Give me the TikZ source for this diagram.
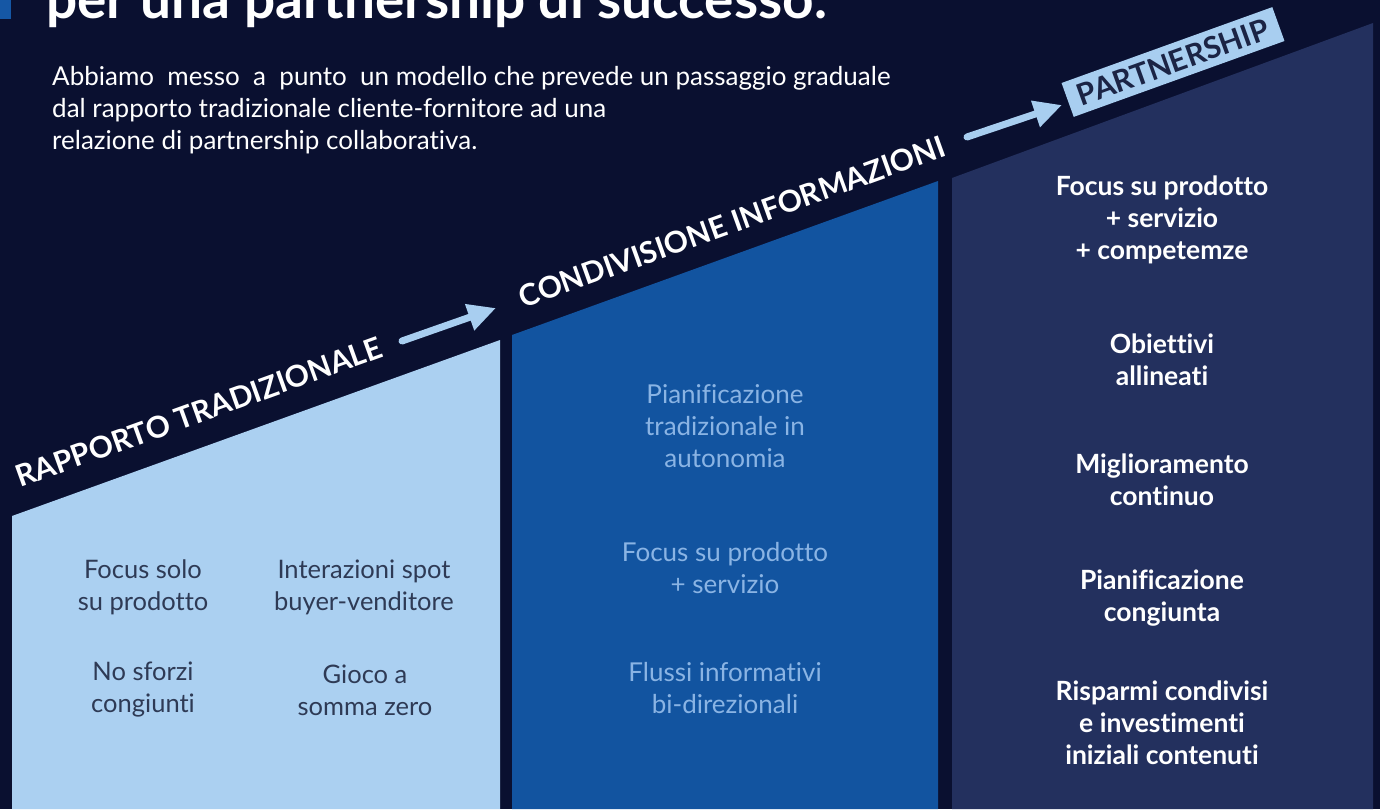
\documentclass[tikz,border=0pt]{standalone}
\usepackage{fontspec}
\setmainfont{Lato}[Ligatures=NoCommon]
\usetikzlibrary{arrows.meta}
\definecolor{bgnavy}{HTML}{0A1030}
\definecolor{paleblue}{HTML}{ABD0F1}
\definecolor{midblue}{HTML}{1254A0}
\definecolor{deepnavy}{HTML}{23305E}
\definecolor{arrowblue}{HTML}{A8CEF0}
\definecolor{lefttext}{HTML}{2E3A55}
\definecolor{midtext}{HTML}{8AB4E4}
\definecolor{barblue}{HTML}{1557A5}
\definecolor{tagtext}{HTML}{1B2445}

\begin{document}
\begin{tikzpicture}[x=1pt,y=-1pt,
    phase/.style={font=\fontsize{30}{30}\selectfont\bfseries, rotate=19.8, text=white, inner sep=0pt},
    lefttxt/.style={align=center, font=\fontsize{25.5}{32}\selectfont, text=lefttext},
    midtxt/.style={align=center, font=\fontsize{26}{32}\selectfont, text=midtext},
    righttxt/.style={align=center, font=\fontsize{26.5}{32}\selectfont\bfseries, text=white},
    stair/.style={line width=7pt, line cap=round, arrowblue, -{Triangle[length=28pt,width=26pt]}}]
    \fill[bgnavy] (0,0) rectangle (1380,809);
    \useasboundingbox (0,0) rectangle (1380,809);

    % title (cut at the top) and intro
    \fill[barblue] (0,0) rectangle (11,19);
    \node[anchor=base west, inner sep=0pt, font=\fontsize{55}{55}\selectfont\bfseries, text=white] (title) at (46,18) {per una partnership di successo.};
    \node[anchor=north west, inner sep=0pt, align=left, font=\fontsize{26}{32}\selectfont, text=white] (intro) at (52,66)
        {Abbiamo\ \ messo\ \ a\ \ punto\ \ un modello che prevede un passaggio graduale\\dal rapporto tradizionale cliente-fornitore ad una\\relazione di partnership collaborativa.};

    % the three steps
    \fill[paleblue] (12,516) -- (500,340) -- (500,809) -- (12,809) -- cycle;
    \fill[midblue] (512,335) -- (938,181) -- (938,809) -- (512,809) -- cycle;
    \fill[deepnavy] (952,178) -- (1373,23) -- (1373,809) -- (952,809) -- cycle;

    \node[phase] (rapporto) at (199,412) {RAPPORTO TRADIZIONALE};
    \node[phase] (condiv) at (732,222) {CONDIVISIONE INFORMAZIONI};
    \node[phase, fill=arrowblue, text=tagtext, minimum width=224pt, minimum height=36pt] (partner) at (1173,62) {PARTNERSHIP};

    \coordinate (s1) at (402,341);
    \coordinate (e1) at (496,308);
    \coordinate (s2) at (967,137);
    \coordinate (e2) at (1062,105);
    \draw[stair] (s1) -- (e1);
    \draw[stair] (s2) -- (e2);

    \node[lefttxt] (solo) at (143,587) {Focus solo\\su prodotto};
    \node[lefttxt] (spot) at (364,587) {Interazioni spot\\buyer-venditore};
    \node[lefttxt] (sforzi) at (143,690) {No sforzi\\congiunti};
    \node[lefttxt] (gioco) at (365,690) {Gioco a\\somma zero};

    \node[midtxt] (autonomia) at (725,426) {Pianificazione\\tradizionale in\\autonomia};
    \node[midtxt] (servizio) at (725,568) {Focus su prodotto\\+ servizio};
    \node[midtxt] (flussi) at (725,688) {Flussi informativi\\bi-direzionali};

    \node[righttxt] (competenze) at (1162,220) {Focus su prodotto\\+ servizio\\+ competemze};
    \node[righttxt] (obiettivi) at (1162,360) {Obiettivi\\allineati};
    \node[righttxt] (miglior) at (1162,480) {Miglioramento\\continuo};
    \node[righttxt] (congiunta) at (1162,598) {Pianificazione\\congiunta};
    \node[righttxt] (risparmi) at (1162,723) {Risparmi condivisi\\e investimenti\\iniziali contenuti};
\end{tikzpicture}
\end{document}
